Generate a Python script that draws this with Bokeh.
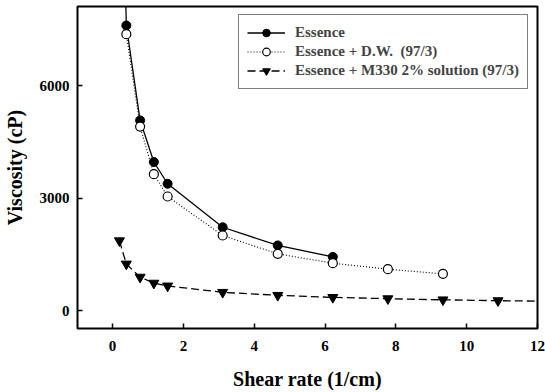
from bokeh.plotting import figure
from bokeh.models import FixedTicker, Range1d, Legend, LegendItem
from bokeh.embed import file_html
from bokeh.resources import INLINE

# Data
essence_x = [0.194, 0.389, 0.778, 1.166, 1.555, 3.110, 4.665, 6.220]
essence_y = [15000, 7600, 5070, 3960, 3380, 2220, 1735, 1430]

dw_x = [0.389, 0.778, 1.166, 1.555, 3.110, 4.665, 6.220, 7.775, 9.330]
dw_y = [7370, 4905, 3635, 3040, 2000, 1510, 1262, 1102, 978]

m330_x = [0.194, 0.389, 0.778, 1.166, 1.555, 3.110, 4.665, 6.220, 7.775, 9.330, 10.885, 12.44]
m330_y = [1860, 1240, 890, 730, 655, 485, 405, 350, 315, 285, 262, 245]

x_ticks = [0, 2, 4, 6, 8, 10, 12]
y_ticks = [0, 3000, 6000]

label_essence = "Essence"
label_dw = "Essence + D.W.  (97/3)"
label_m330 = "Essence + M330 2% solution (97/3)"

FONT = "Liberation Serif"

p = figure(width=545, height=392, output_backend="svg", toolbar_location=None,
           x_range=Range1d(-0.99, 12.0), y_range=Range1d(-480, 8107),
           min_border_left=77, min_border_right=8, min_border_top=6, min_border_bottom=64)

p.xgrid.visible = False
p.ygrid.visible = False
p.outline_line_color = "black"
p.outline_line_width = 2
p.background_fill_color = "white"
p.border_fill_color = "white"

r1l = p.line(essence_x, essence_y, line_color="black", line_width=1.3)
r1s = p.scatter(essence_x, essence_y, marker="circle", size=9, fill_color="black", line_color="black")

r2l = p.line(dw_x, dw_y, line_color="black", line_width=1.1, line_dash="1 2")
r2s = p.scatter(dw_x, dw_y, marker="circle", size=9, fill_color="white", line_color="black", line_width=1.2)

r3l = p.line(m330_x, m330_y, line_color="black", line_width=1.3, line_dash="8 4")
r3s = p.scatter(m330_x, m330_y, marker="inverted_triangle", size=10, fill_color="black", line_color="black")

for ax in (p.xaxis[0], p.yaxis[0]):
    ax.axis_line_color = None
    ax.major_tick_in = 5
    ax.major_tick_out = 0
    ax.major_tick_line_width = 1.5
    ax.minor_tick_line_color = None
    ax.major_label_text_font = FONT
    ax.major_label_text_font_style = "bold"
    ax.major_label_text_font_size = "15px"
    ax.major_label_text_color = "black"
    ax.axis_label_text_font = FONT
    ax.axis_label_text_font_style = "bold"
    ax.axis_label_text_font_size = "20px"
    ax.axis_label_text_color = "black"

p.xaxis[0].ticker = FixedTicker(ticks=x_ticks)
p.yaxis[0].ticker = FixedTicker(ticks=y_ticks)
p.xaxis[0].axis_label = "Shear rate (1/cm)"
p.yaxis[0].axis_label = "Viscosity (cP)"
p.xaxis[0].major_label_standoff = 12
p.xaxis[0].axis_label_standoff = 14
p.yaxis[0].major_label_standoff = 8
p.yaxis[0].axis_label_standoff = 11

legend = Legend(items=[
    LegendItem(label=label_essence, renderers=[r1l, r1s]),
    LegendItem(label=label_dw, renderers=[r2l, r2s]),
    LegendItem(label=label_m330, renderers=[r3l, r3s]),
], location=(161, 239))
legend.border_line_color = "black"
legend.border_line_width = 1.5
legend.background_fill_color = "white"
legend.background_fill_alpha = 1
legend.label_text_font = FONT
legend.label_text_font_style = "bold"
legend.label_text_font_size = "15px"
legend.glyph_width = 38
legend.glyph_height = 19
legend.label_height = 19
legend.label_standoff = 10
legend.padding = 8
legend.spacing = 0
legend.margin = 0
p.add_layout(legend, "center")

open("out.html", "w").write(file_html(p, INLINE))
